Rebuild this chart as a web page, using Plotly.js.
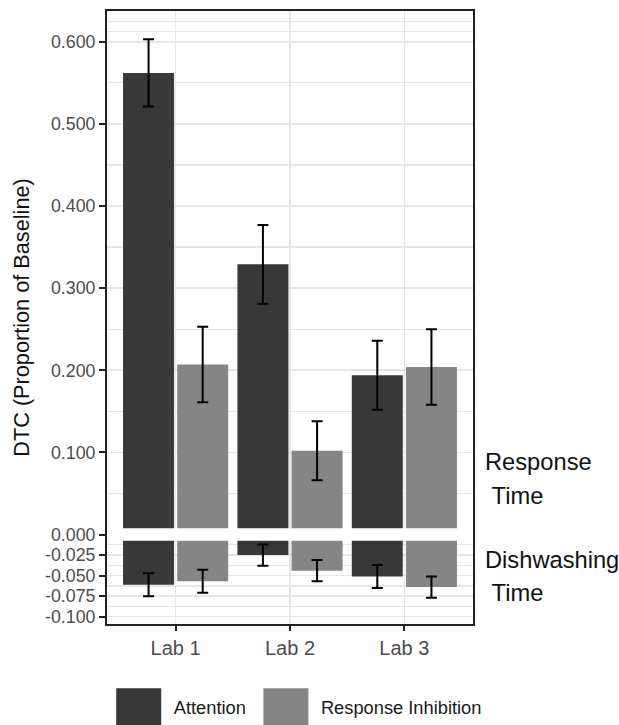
<!DOCTYPE html>
<html>
<head>
<meta charset="utf-8">
<script src="https://cdn.plot.ly/plotly-3.0.1.min.js"></script>
<style>html,body{margin:0;padding:0;background:#fff;}#chart{width:619px;height:725px;}</style>
</head>
<body>
<div id="chart"></div>
<script>
// ---- data ----
const labs = ['Lab 1', 'Lab 2', 'Lab 3'];
const seriesNames = ['Attention', 'Response Inhibition'];

// Response Time panel
const rtAttention = [0.562, 0.329, 0.194];
const rtAttentionErr = [0.041, 0.048, 0.042];
const rtInhibition = [0.207, 0.102, 0.204];
const rtInhibitionErr = [0.046, 0.036, 0.046];

// Dishwashing Time panel
const dwAttention = [-0.061, -0.025, -0.051];
const dwAttentionErr = [0.014, 0.013, 0.014];
const dwInhibition = [-0.057, -0.044, -0.064];
const dwInhibitionErr = [0.014, 0.013, 0.013];

// axis ticks
const yTickVals = [0.6, 0.5, 0.4, 0.3, 0.2, 0.1, 0, -0.025, -0.05, -0.075, -0.1];
const yTickText = ['0.600', '0.500', '0.400', '0.300', '0.200', '0.100', '0.000', '-0.025', '-0.050', '-0.075', '-0.100'];
const topGridMajor = [0.1, 0.2, 0.3, 0.4, 0.5, 0.6];
const topGridMinor = [0.05, 0.15, 0.25, 0.35, 0.45, 0.55, 0.6125, 0.625];
const bottomGridMajor = [-0.025, -0.05, -0.075, -0.1];
const bottomGridMinor = [-0.0125, -0.0375, -0.0625, -0.0875];
const panelLabelLines = ['Response', '\u00a0Time', 'Dishwashing', '\u00a0Time'];

// ---- styles ----
const colAtt = '#383838';
const colInh = '#858585';
const gridCol = '#e6e6e6';
const fontFam = '"Liberation Sans", Arial, sans-serif';

function errStyle(arr) {
  return {type: 'data', array: arr, visible: true, color: '#000', thickness: 2, width: 5.5};
}

const data = [
  {type: 'bar', x: labs, y: rtAttention, name: seriesNames[0], legendgroup: 'a',
   marker: {color: colAtt}, error_y: errStyle(rtAttentionErr), xaxis: 'x', yaxis: 'y', hoverinfo: 'skip'},
  {type: 'bar', x: labs, y: rtInhibition, name: seriesNames[1], legendgroup: 'b',
   marker: {color: colInh}, error_y: errStyle(rtInhibitionErr), xaxis: 'x', yaxis: 'y', hoverinfo: 'skip'},
  {type: 'bar', x: labs, y: dwAttention, name: seriesNames[0], legendgroup: 'a', showlegend: false,
   marker: {color: colAtt}, error_y: errStyle(dwAttentionErr), xaxis: 'x2', yaxis: 'y2', hoverinfo: 'skip'},
  {type: 'bar', x: labs, y: dwInhibition, name: seriesNames[1], legendgroup: 'b', showlegend: false,
   marker: {color: colInh}, error_y: errStyle(dwInhibitionErr), xaxis: 'x2', yaxis: 'y2', hoverinfo: 'skip'},
  // frame / shared tick axis holder
  {type: 'scatter', x: [], y: [], xaxis: 'x3', yaxis: 'y3', showlegend: false, hoverinfo: 'skip'}
];

const xRange = [-0.6, 2.6];
const labelY = [0.0888, 0.0474, -0.0310, -0.0711];

const layout = {
  width: 619, height: 725,
  margin: {l: 107, r: 146, t: 11, b: 101, autoexpand: false},
  paper_bgcolor: '#fff',
  plot_bgcolor: 'rgba(0,0,0,0)',
  font: {family: fontFam, color: '#000'},
  barmode: 'group',
  bargap: 0.053,
  bargroupgap: 0.058,
  showlegend: true,
  legend: {
    orientation: 'h', x: -0.009, xanchor: 'left', y: -0.135, yanchor: 'middle',
    font: {size: 18.3, color: '#1a1a1a', family: fontFam},
    itemwidth: 60, itemclick: false, bgcolor: 'rgba(0,0,0,0)', traceorder: 'normal'
  },
  xaxis: {
    domain: [0, 1], anchor: 'y', type: 'category', categoryorder: 'array', categoryarray: labs,
    range: xRange, showticklabels: false, ticks: '', showgrid: true, gridcolor: gridCol, gridwidth: 1.6,
    zeroline: false, showline: false
  },
  xaxis2: {
    domain: [0, 1], anchor: 'y2', type: 'category', categoryorder: 'array', categoryarray: labs,
    range: xRange, showticklabels: true, ticks: 'outside', ticklen: 6, tickwidth: 2, tickcolor: '#222',
    tickfont: {size: 20, color: '#4d4d4d', family: fontFam},
    showgrid: true, gridcolor: gridCol, gridwidth: 1.6, zeroline: false, showline: false
  },
  yaxis: {
    domain: [0.1561, 1], anchor: 'x', range: [0.0076, 0.6374],
    tickmode: 'array', tickvals: topGridMajor, showticklabels: false, ticks: '',
    showgrid: true, gridcolor: gridCol, gridwidth: 1.6, zeroline: false, showline: false,
    minor: {tickmode: 'array', tickvals: topGridMinor, showgrid: true, gridcolor: gridCol, gridwidth: 1.3, ticks: ''}
  },
  yaxis2: {
    domain: [0, 0.1359], anchor: 'x2', range: [-0.1089, -0.0075],
    tickmode: 'array', tickvals: bottomGridMajor, showticklabels: false, ticks: '',
    showgrid: true, gridcolor: gridCol, gridwidth: 1.6, zeroline: false, showline: false,
    minor: {tickmode: 'array', tickvals: bottomGridMinor, showgrid: true, gridcolor: gridCol, gridwidth: 1.3, ticks: ''}
  },
  xaxis3: {
    domain: [0, 1], anchor: 'y3', range: [0, 1], showticklabels: false, ticks: '',
    showgrid: false, zeroline: false, showline: true, mirror: true, linecolor: '#222', linewidth: 2
  },
  yaxis3: {
    domain: [0, 1], anchor: 'x3', range: [-0.1089, 0.6374],
    tickmode: 'array', tickvals: yTickVals, ticktext: yTickText,
    ticks: 'outside', ticklen: 6, tickwidth: 2, tickcolor: '#222',
    tickfont: {size: 17.8, color: '#4d4d4d', family: fontFam},
    showgrid: false, zeroline: false, showline: true, mirror: true, linecolor: '#222', linewidth: 2,
    title: {text: 'DTC (Proportion of Baseline)', font: {size: 21.7, color: '#111', family: fontFam}, standoff: 9}
  },
  annotations: panelLabelLines.map((t, i) => ({
    text: t, xref: 'paper', x: 1, xshift: 10, xanchor: 'left', align: 'left',
    yref: 'y3', y: labelY[i], yanchor: 'middle', showarrow: false,
    font: {size: 23.7, color: '#111', family: fontFam}
  }))
};

Plotly.newPlot('chart', data, layout, {staticPlot: true, displayModeBar: false}).then(function (gd) {
  gd.querySelectorAll('.legend .legendpoints path').forEach(function (p) {
    p.setAttribute('d', 'M22.5,22.5H-22.5V-22.5H22.5Z');
  });
});
</script>
</body>
</html>
